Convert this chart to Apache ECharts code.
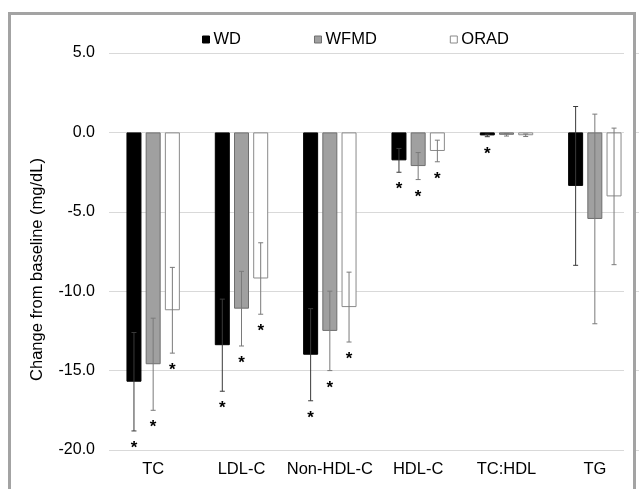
<!DOCTYPE html>
<html>
<head>
<meta charset="utf-8">
<script src="https://cdn.jsdelivr.net/npm/echarts@6/dist/echarts.min.js"></script>
<style>
  html, body { margin: 0; padding: 0; background: #fff; }
  #main { width: 639px; height: 489px; }
</style>
</head>
<body>
<div id="main"></div>
<script>
// data
var categories = ['TC', 'LDL-C', 'Non-HDL-C', 'HDL-C', 'TC:HDL', 'TG'];
var groups = ['WD', 'WFMD', 'ORAD'];

var wdMean = [-15.7, -13.4, -14.0, -1.76, -0.19, -3.37];
var wdErr = [3.1, 2.9, 2.9, 0.75, 0.08, 5.0];
var wfmdMean = [-14.6, -11.1, -12.5, -2.12, -0.15, -5.45];
var wfmdErr = [2.9, 2.35, 2.5, 0.85, 0.08, 6.6];
var oradMean = [-11.2, -9.2, -11.0, -1.17, -0.18, -4.03];
var oradErr = [2.7, 2.25, 2.2, 0.68, 0.08, 4.3];

// 1 = asterisk under the bar
var wdSig = [1, 1, 1, 1, 1, 0];
var wfmdSig = [1, 1, 1, 1, 0, 0];
var oradSig = [1, 1, 1, 1, 0, 0];

var yTicks = [-20, -15, -10, -5, 0, 5];

new function main() {
    var chart = echarts.init(document.getElementById('main'));

    var BAR_W = 15;
    var BAR_GAP = 0.28;
    var FONT = '"Liberation Sans", Arial, sans-serif';

    var means = [wdMean, wfmdMean, oradMean];
    var errs = [wdErr, wfmdErr, oradErr];
    var sigs = [wdSig, wfmdSig, oradSig];
    var fills = ['#000000', '#a0a0a0', '#ffffff'];
    var borders = ['#000000', '#6e6e6e', '#8a8a8a'];
    var errColors = ['#3a3a3a', '#7a7a7a', '#7a7a7a'];

    var series = [];
    groups.forEach(function(name, g) {
        series.push({
            name: name,
            type: 'bar',
            barWidth: BAR_W,
            barGap: (BAR_GAP * 100) + '%',
            itemStyle: { color: fills[g], borderColor: borders[g], borderWidth: 1 },
            data: means[g],
            z: 2
        });
    });

    // error bars + asterisks
    groups.forEach(function(name, g) {
        var d = means[g].map(function(m, i) {
            return [i, m - errs[g][i], m + errs[g][i], sigs[g][i]];
        });
        series.push({
            type: 'custom',
            name: name + '_err',
            z: 3,
            silent: true,
            encode: { x: 0, y: [1, 2] },
            data: d,
            renderItem: function(params, api) {
                var off = (g - 1) * BAR_W * (1 + BAR_GAP);
                var lo = api.coord([api.value(0), api.value(1)]);
                var hi = api.coord([api.value(0), api.value(2)]);
                var x = lo[0] + off;
                var cap = 2.5;
                var st = { stroke: errColors[g], lineWidth: 1 };
                var kids = [
                    { type: 'line', shape: { x1: x, y1: lo[1], x2: x, y2: hi[1] }, style: st },
                    { type: 'line', shape: { x1: x - cap, y1: lo[1], x2: x + cap, y2: lo[1] }, style: st },
                    { type: 'line', shape: { x1: x - cap, y1: hi[1], x2: x + cap, y2: hi[1] }, style: st }
                ];
                if (api.value(3)) {
                    kids.push({
                        type: 'text',
                        style: {
                            text: '*', x: x, y: lo[1] + 9,
                            align: 'center', verticalAlign: 'top',
                            fill: '#000', font: 'bold 17px ' + FONT
                        }
                    });
                }
                return { type: 'group', children: kids };
            }
        });
    });

    var option = {
        animation: false,
        backgroundColor: '#fff',
        textStyle: { fontFamily: FONT },
        legend: {
            data: groups.map(function(n, g) {
                return { name: n, itemStyle: { color: fills[g], borderColor: borders[g], borderWidth: 1 } };
            }),
            left: 197,
            top: 26,
            icon: 'rect',
            itemWidth: 7,
            itemHeight: 7,
            itemGap: 73,
            textStyle: { fontSize: 16.5, color: '#000', padding: [0, 0, 0, -1] }
        },
        grid: { left: 109, right: -2, top: 53, bottom: 39 },
        xAxis: {
            type: 'category',
            data: categories,
            position: 'bottom',
            axisLine: { show: false },
            axisTick: { show: false },
            axisLabel: { fontSize: 16.5, color: '#000', margin: 11, interval: 0 }
        },
        yAxis: {
            type: 'value',
            min: yTicks[0],
            max: yTicks[yTicks.length - 1],
            interval: 5,
            name: 'Change from baseline (mg/dL)',
            nameLocation: 'middle',
            nameGap: 63,
            nameTextStyle: { fontSize: 16.5, color: '#000', padding: [0, 36, 0, 0] },
            axisLine: { show: false },
            axisTick: { show: false },
            axisLabel: {
                fontSize: 16, color: '#000', margin: 14,
                formatter: function(v) { return v.toFixed(1); }
            },
            splitLine: { lineStyle: { color: '#d9d9d9', width: 1 } }
        },
        graphic: [
            { type: 'rect', z: 100, shape: { x: 624, y: 14, width: 9, height: 480 }, style: { fill: '#fff' } },
            { type: 'rect', z: 101, shape: { x: 9.5, y: 13.5, width: 625, height: 490 },
              style: { fill: 'none', stroke: '#a3a3a3', lineWidth: 3 } }
        ],
        series: series
    };

    chart.setOption(option);
}
</script>
</body>
</html>
